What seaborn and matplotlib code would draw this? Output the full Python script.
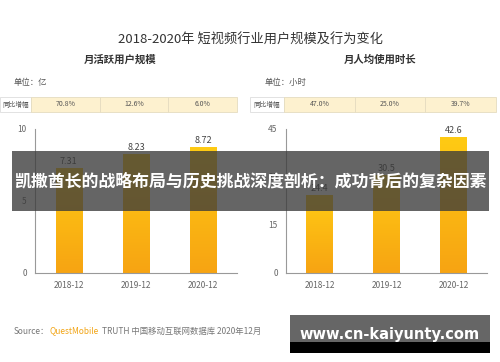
import numpy as np
import pandas as pd
import matplotlib
matplotlib.use("Agg")
import matplotlib.pyplot as plt
import seaborn as sns
from matplotlib.patches import Rectangle
from matplotlib.colors import LinearSegmentedColormap

categories = ["2018-12", "2019-12", "2020-12"]
mau_values = [7.31, 8.23, 8.72]
hours_values = [24.4, 30.5, 42.6]
mau_growth = ["70.8%", "12.6%", "6.0%"]
hours_growth = ["47.0%", "25.0%", "39.7%"]
left_yticks = [0, 5, 10]
right_yticks = [0, 15, 30, 45]

sns.set_theme(style="white")
plt.rcParams['font.family'] = ['Noto Sans CJK SC', 'DejaVu Sans']

W, H = 500, 362
fig = plt.figure(figsize=(5, 3.62), dpi=100)
fig.patch.set_facecolor("white")

def fx(px):
    return px / W

def fy(py):
    return 1 - py / H

cmap = LinearSegmentedColormap.from_list("g", ["#F7A412", "#FFCB14"])

fig.text(0.5, fy(40), "2018-2020年 短视频行业用户规模及行为变化", ha="center", va="center",
         fontsize=9.5, color="#333333")
fig.text(fx(120), fy(60), "月活跃用户规模", ha="center", va="center", fontsize=7.5,
         color="#333333", fontweight="bold")
fig.text(fx(380), fy(60), "月人均使用时长", ha="center", va="center", fontsize=7.5,
         color="#333333", fontweight="bold")
fig.text(fx(14), fy(82), "单位：亿", ha="left", va="center", fontsize=6, color="#555555")
fig.text(fx(265), fy(82), "单位：小时", ha="left", va="center", fontsize=6, color="#555555")

def table(x0, lw, x1, growth):
    y0, y1 = 97, 112
    fig.patches.append(Rectangle((fx(x0), fy(y1)), fx(lw), (y1 - y0) / H, transform=fig.transFigure,
                                 facecolor="white", edgecolor="#dddddd", lw=0.6))
    fig.text(fx(x0 + lw / 2), fy((y0 + y1) / 2), "同比增幅", ha="center", va="center",
             fontsize=4.8, color="#555555")
    cw = (x1 - (x0 + lw)) / 3
    for i, g in enumerate(growth):
        xs = x0 + lw + i * cw
        fig.patches.append(Rectangle((fx(xs), fy(y1)), fx(cw), (y1 - y0) / H, transform=fig.transFigure,
                                     facecolor="#FDF1CF", edgecolor="#e5dcc0", lw=0.6))
        fig.text(fx(xs + cw / 2), fy((y0 + y1) / 2), g, ha="center", va="center",
                 fontsize=5, color="#555555")

table(0, 31, 237, mau_growth)
table(250, 34, 496, hours_growth)

def panel(left_px, right_px, values, ymax, yticks, fmt):
    ax = fig.add_axes([fx(left_px), fy(273), fx(right_px - left_px), (273 - 129) / H])
    df = pd.DataFrame({"cat": categories, "val": values})
    sns.barplot(data=df, x="cat", y="val", ax=ax, width=0.39, color="#FFC20E",
                edgecolor="none", saturation=1)
    ax.set_ylim(0, ymax)
    ax.set_xlim(-0.5, 2.5)
    ax.set_yticks(yticks)
    ax.set_xlabel("")
    ax.set_ylabel("")
    ax.tick_params(axis="both", length=0, labelsize=6, colors="#666666", pad=6)
    for s in ["top", "right"]:
        ax.spines[s].set_visible(False)
    for s in ["left", "bottom"]:
        ax.spines[s].set_color("#999999")
        ax.spines[s].set_linewidth(0.8)
    grad = np.linspace(0, 1, 100).reshape(-1, 1)
    for p, v in zip(ax.patches, values):
        x, w = p.get_x(), p.get_width()
        im = ax.imshow(grad, extent=[x, x + w, 0, v], origin="lower", cmap=cmap,
                       aspect="auto", zorder=p.get_zorder() + 0.1)
        im.set_clip_path(p)
        ax.text(x + w / 2, v + ymax * 0.015, fmt.format(v), ha="center", va="bottom",
                fontsize=6.5, color="#444444")
    ax.set_xlim(-0.5, 2.5)
    ax.set_ylim(0, ymax)
    return ax

panel(35, 237, mau_values, 10, left_yticks, "{:.2f}")
panel(286, 487, hours_values, 45, right_yticks, "{:.1f}")

# overlay band
fig.patches.append(Rectangle((fx(12), fy(211)), fx(489 - 12), (211 - 151) / H, transform=fig.transFigure,
                             facecolor="#3a3a3a", alpha=0.78, edgecolor="none", zorder=10))
fig.text(fx(250), fy(181), "凯撒酋长的战略布局与历史挑战深度剖析：成功背后的复杂因素", ha="center",
         va="center", fontsize=12.2, color="white", fontweight="bold", zorder=11)

# source
fig.text(fx(14), fy(331), "Source：", ha="left", va="center", fontsize=6, color="#777777")
fig.text(fx(49), fy(331), "QuestMobile", ha="left", va="center", fontsize=6, color="#F2A516")
fig.text(fx(102), fy(331), "TRUTH 中国移动互联网数据库 2020年12月", ha="left", va="center",
         fontsize=6, color="#777777")

# watermark box
fig.patches.append(Rectangle((fx(290), fy(353)), fx(200), (353 - 315) / H, transform=fig.transFigure,
                             facecolor="#666666", edgecolor="none", zorder=10))
fig.patches.append(Rectangle((fx(290), fy(353)), fx(200), (353 - 342) / H, transform=fig.transFigure,
                             facecolor="#000000", edgecolor="none", zorder=10))
fig.text(fx(390), fy(335), "www.cn-kaiyunty.com", ha="center", va="center", fontsize=10.5,
         color="white", fontweight="bold", zorder=11, family=["DejaVu Sans"])

fig.savefig("out.png", dpi=100)
